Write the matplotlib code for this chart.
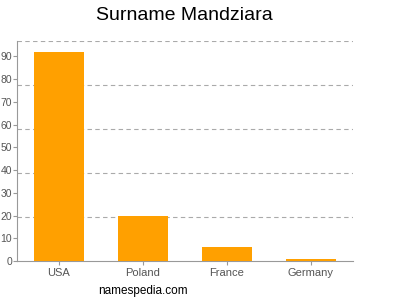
import matplotlib
matplotlib.use("Agg")
import matplotlib.pyplot as plt

plt.rcParams['font.family'] = ['Liberation Sans', 'DejaVu Sans']

paises = ["USA", "Poland", "France", "Germany"]
valores = [92, 20, 6, 1]
ticks_y = [0, 10, 20, 30, 40, 50, 60, 70, 80, 90]
tope = 96.7

fig = plt.figure(figsize=(4, 3), dpi=100)
ax = fig.add_axes([0.0425, 0.13, 0.84, 0.733])

ax.bar(range(len(paises)), valores, width=0.6, color="#FFA000", zorder=3)
# la rejilla divide el eje en 5 partes iguales
for k in range(1, 6):
    ax.axhline(tope * k / 5, color="#aaaaaa", linestyle=(0, (4, 3)), linewidth=0.8, zorder=1)

ax.set_xlim(-0.5, len(paises) - 0.5)
ax.set_ylim(0, tope)
ax.set_xticks(range(len(paises)))
ax.set_xticklabels(paises)
ax.set_yticks(ticks_y)

for s in ["top", "right"]:
    ax.spines[s].set_visible(False)
for s in ["left", "bottom"]:
    ax.spines[s].set_color("#999999")
    ax.spines[s].set_linewidth(0.8)

ax.tick_params(axis="y", colors="#999999", labelcolor="#555555", labelsize=7.5,
               length=3, width=0.8, pad=0.5)
ax.tick_params(axis="x", colors="#999999", labelcolor="#555555", labelsize=8,
               length=3, width=0.8, pad=2)

fig.text(0.46, 0.95, "Surname Mandziara", ha="center", va="center", fontsize=14)
fig.text(0.245, 0.03, "namespedia.com", ha="left", va="center", fontsize=8.5)

fig.savefig("out.png", dpi=100)
